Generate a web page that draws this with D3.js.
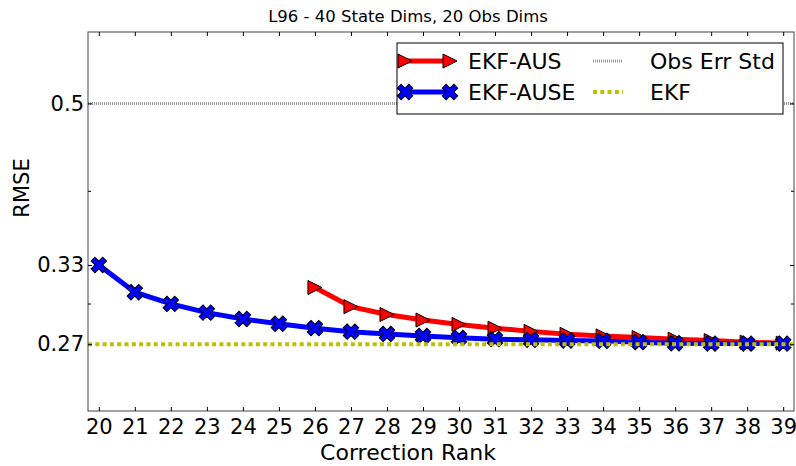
<!DOCTYPE html>
<html>
<head>
<meta charset="utf-8">
<script src="https://cdn.jsdelivr.net/npm/d3@7"></script>
<style>
  body { margin: 0; background: #fff; }
  text { font-family: "DejaVu Sans", sans-serif; fill: #000; }
</style>
</head>
<body>
<div id="chart"></div>
<script>
var width = 796;
var height = 466;

// data
var ranks = [20, 21, 22, 23, 24, 25, 26, 27, 28, 29, 30, 31, 32, 33, 34, 35, 36, 37, 38, 39];
var ausRanks = [26, 27, 28, 29, 30, 31, 32, 33, 34, 35, 36, 37, 38, 39];
var ekfAus = [0.3125, 0.2976, 0.2917, 0.2876, 0.2844, 0.2817, 0.2794, 0.2773, 0.2762, 0.2750, 0.2739, 0.2729, 0.2718, 0.2711];
var ekfAuse = [0.3310, 0.3088, 0.2997, 0.2931, 0.2884, 0.2849, 0.2817, 0.2792, 0.2776, 0.2762, 0.2748, 0.2739, 0.2734, 0.2730, 0.2727, 0.2718, 0.2711, 0.2708, 0.2708, 0.2708];
var ekfRmse = 0.2704;
var obsErrStd = 0.5;
var yMajorTicks = [0.2704, 0.3310, 0.5];
var yMinorTicks = [0.3, 0.4];

var margin = {top: 32, right: 2, bottom: 55, left: 88};
var plotW = width - margin.left - margin.right;
var plotH = height - margin.top - margin.bottom;

var svg = d3.select("#chart")
  .append("svg")
  .attr("width", width)
  .attr("height", height);

var x = d3.scaleLinear().domain([19.7, 39.3]).range([0, plotW]);
var y = d3.scaleLog().domain([0.228, 0.6]).range([plotH, 0]);

var g = svg.append("g")
  .attr("transform", "translate(" + margin.left + "," + margin.top + ")");

svg.append("defs").append("clipPath").attr("id", "clip")
  .append("rect").attr("width", plotW).attr("height", plotH);

var plot = g.append("g").attr("clip-path", "url(#clip)");

// reference lines
plot.append("line")
  .attr("x1", 0).attr("x2", plotW)
  .attr("y1", y(obsErrStd)).attr("y2", y(obsErrStd))
  .attr("stroke", "#999").attr("stroke-width", 3)
  .attr("stroke-dasharray", "1,1");

var line = d3.line()
  .x(function(d) { return x(d[0]); })
  .y(function(d) { return y(d[1]); });

var ausData = ausRanks.map(function(r, i) { return [r, ekfAus[i]]; });
var auseData = ranks.map(function(r, i) { return [r, ekfAuse[i]]; });

var triPath = "M-7,-7L7,0L-7,7Z";
var xPath = d3.symbol().type(d3.symbolCross).size(150)();

// EKF-AUS
plot.append("path").datum(ausData)
  .attr("d", line).attr("fill", "none")
  .attr("stroke", "#ff0000").attr("stroke-width", 5);
plot.selectAll(".tri").data(ausData).enter().append("path")
  .attr("d", triPath)
  .attr("transform", function(d) { return "translate(" + x(d[0]) + "," + y(d[1]) + ")"; })
  .attr("fill", "#ff0000").attr("stroke", "#000").attr("stroke-width", 1);

// EKF-AUSE
plot.append("path").datum(auseData)
  .attr("d", line).attr("fill", "none")
  .attr("stroke", "#0000ff").attr("stroke-width", 5);
plot.selectAll(".xm").data(auseData).enter().append("path")
  .attr("d", xPath)
  .attr("transform", function(d) { return "translate(" + x(d[0]) + "," + y(d[1]) + ") rotate(45)"; })
  .attr("fill", "#0000ff").attr("stroke", "#000").attr("stroke-width", 1);

// EKF
plot.append("line")
  .attr("x1", 0).attr("x2", plotW)
  .attr("y1", y(ekfRmse)).attr("y2", y(ekfRmse))
  .attr("stroke", "#bfbf00").attr("stroke-width", 4)
  .attr("stroke-dasharray", "4,3.3");

// frame
g.append("rect")
  .attr("width", plotW).attr("height", plotH)
  .attr("fill", "none").attr("stroke", "#444").attr("stroke-width", 1);

// axes: ticks inward
var xAxis = d3.axisBottom(x).tickValues(ranks).tickSize(-4).tickPadding(8).tickFormat(d3.format("d"));
var xAxisTop = d3.axisTop(x).tickValues(ranks).tickSize(-4).tickFormat("");
var yAxis = d3.axisLeft(y).tickValues(yMajorTicks).tickSize(-4).tickPadding(4)
  .tickFormat(function(d) { return d === 0.5 ? "0.5" : d3.format(".2f")(d); });
var yAxisR = d3.axisRight(y).tickValues(yMajorTicks).tickSize(-4).tickFormat("");
var yMinor = d3.axisLeft(y).tickValues(yMinorTicks).tickSize(-3).tickFormat("");
var yMinorR = d3.axisRight(y).tickValues(yMinorTicks).tickSize(-3).tickFormat("");

function styleAxis(sel) {
  sel.select(".domain").remove();
  sel.selectAll(".tick line").attr("stroke", "#000");
  sel.selectAll(".tick text").style("font-family", "DejaVu Sans").style("font-size", "21px").attr("fill", "#000");
}

g.append("g").attr("transform", "translate(0," + plotH + ")").call(xAxis).call(styleAxis);
g.append("g").call(xAxisTop).call(styleAxis);
g.append("g").call(yAxis).call(styleAxis);
g.append("g").attr("transform", "translate(" + plotW + ",0)").call(yAxisR).call(styleAxis);
g.append("g").call(yMinor).call(styleAxis);
g.append("g").attr("transform", "translate(" + plotW + ",0)").call(yMinorR).call(styleAxis);

// title and labels
svg.append("text")
  .attr("x", 408).attr("y", 22)
  .attr("text-anchor", "middle").style("font-size", "16.5px")
  .text("L96 - 40 State Dims, 20 Obs Dims");

svg.append("text")
  .attr("x", 408).attr("y", 460)
  .attr("text-anchor", "middle").style("font-size", "22px")
  .text("Correction Rank");

svg.append("text")
  .attr("transform", "translate(29,188) rotate(-90)")
  .attr("text-anchor", "middle").style("font-size", "21px")
  .text("RMSE");

// legend
var legend = svg.append("g").attr("transform", "translate(397,43)");
legend.append("rect")
  .attr("width", 386).attr("height", 71)
  .attr("fill", "#fff").attr("stroke", "#000").attr("stroke-width", 1);

var legendItems = [
  {label: "EKF-AUS", col: 0, row: 0, color: "#ff0000", marker: "tri"},
  {label: "EKF-AUSE", col: 0, row: 1, color: "#0000ff", marker: "x"},
  {label: "Obs Err Std", col: 1, row: 0, color: "#999", marker: null},
  {label: "EKF", col: 1, row: 1, color: "#bfbf00", marker: null}
];

legendItems.forEach(function(d) {
  var ly = 18 + d.row * 31;
  var lx = d.col === 0 ? 8 : 196;
  var hw = d.col === 0 ? 45 : 30;
  var item = legend.append("g").attr("transform", "translate(" + lx + "," + ly + ")");
  var ln = item.append("line").attr("x1", 0).attr("x2", hw).attr("y1", 0).attr("y2", 0)
    .attr("stroke", d.color);
  if (d.marker) {
    ln.attr("stroke-width", 5);
    [0, hw].forEach(function(px) {
      item.append("path")
        .attr("d", d.marker === "tri" ? triPath : xPath)
        .attr("transform", "translate(" + px + ",0)" + (d.marker === "x" ? " rotate(45)" : ""))
        .attr("fill", d.color).attr("stroke", "#000").attr("stroke-width", 1);
    });
  } else if (d.label === "EKF") {
    ln.attr("stroke-width", 4).attr("stroke-dasharray", "4,3.3");
  } else {
    ln.attr("stroke-width", 3).attr("stroke-dasharray", "1,1");
  }
  item.append("text")
    .attr("x", d.col === 0 ? 63 : 57).attr("y", 8)
    .style("font-size", "22px")
    .text(d.label);
});
</script>
</body>
</html>
